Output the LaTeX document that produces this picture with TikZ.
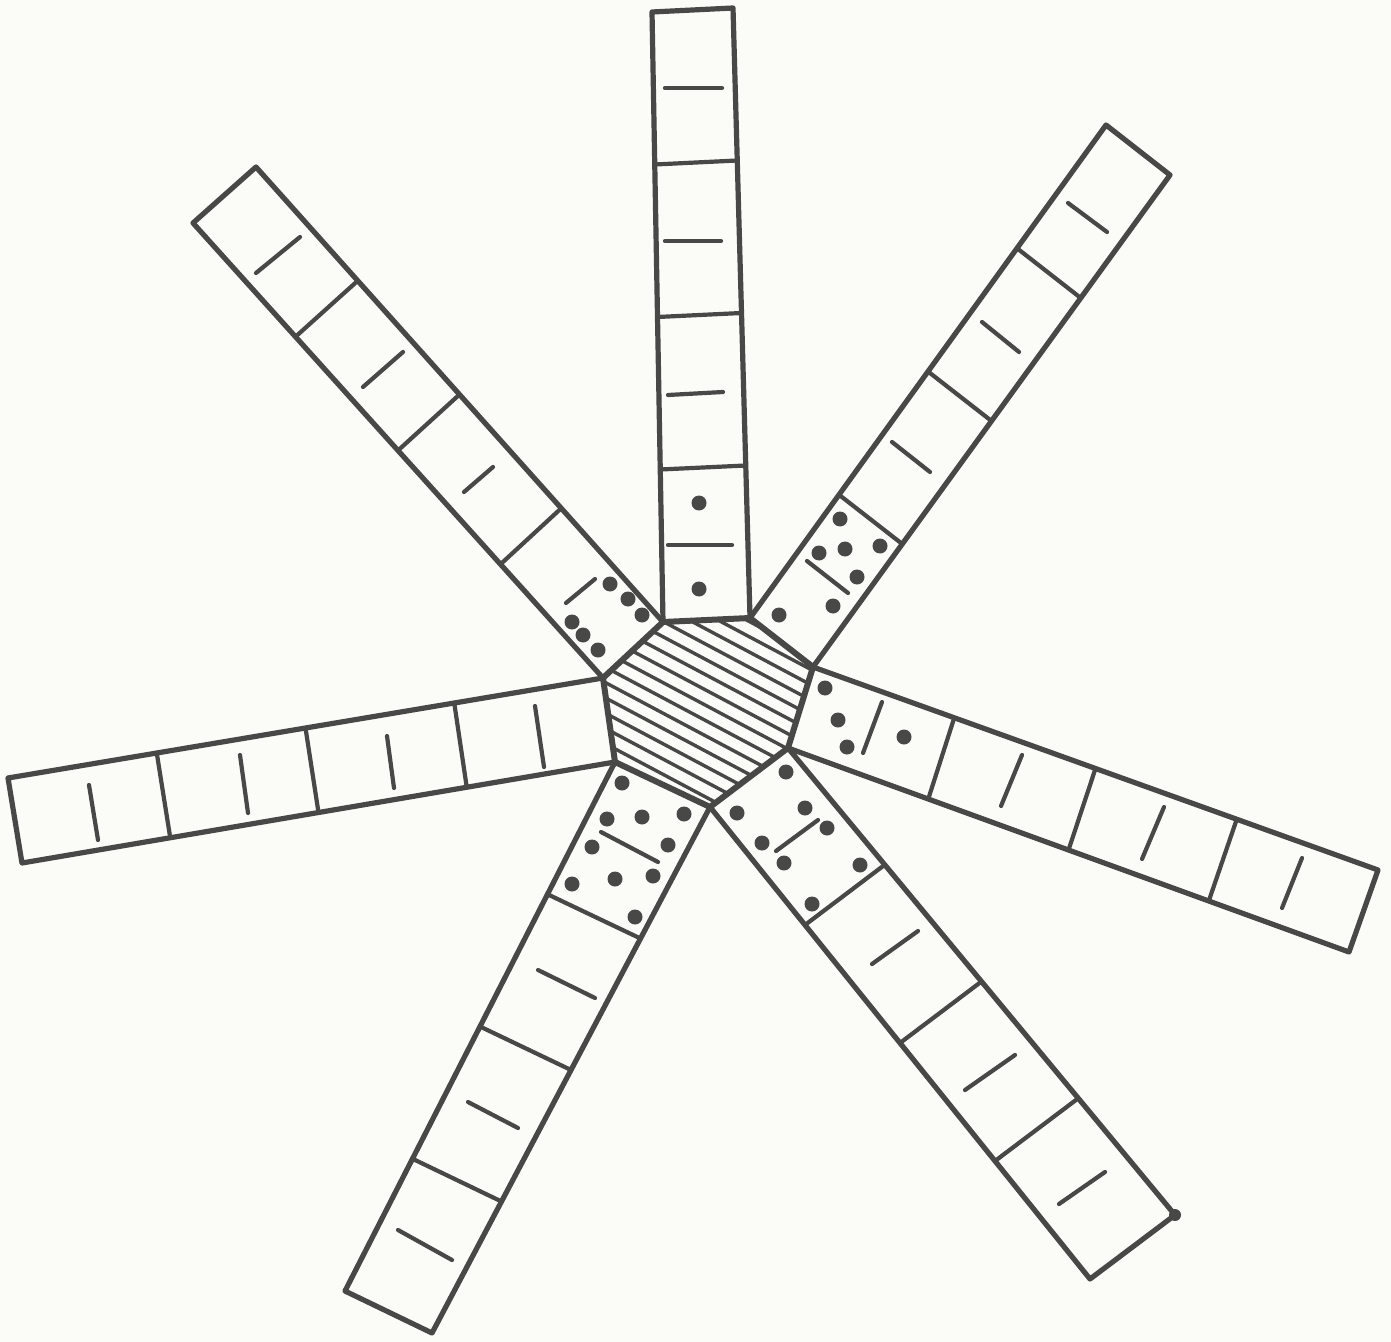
\documentclass[tikz,border=0pt]{standalone}
\usetikzlibrary{calc}
\definecolor{ink}{RGB}{72,72,70}
\definecolor{paper}{RGB}{251,251,248}
\tikzset{
  edgeline/.style={draw=ink, line width=2.6pt, line join=round, line cap=round},
  cellline/.style={draw=ink, line width=2.1pt, line cap=round},
  tickline/.style={draw=ink, line width=2.1pt, line cap=round},
  hatchline/.style={draw=ink, line width=1.7pt},
  pip/.style={fill=ink},
}
\newcommand{\drawarm}[4]{%
  \draw[edgeline] (#1) -- (#2) -- (#3) -- (#4);
  \foreach \fr in {0.25,0.5,0.75}
    \draw[cellline] ($(#1)!\fr!(#2)$) -- ($(#4)!\fr!(#3)$);
}
\begin{document}
\begin{tikzpicture}[x=0.5pt, y=-0.5pt]
  \fill[paper] (0,0) rectangle (1391,1342);
  \useasboundingbox (0,0) rectangle (1391,1342);
  % centre heptagon
  \coordinate (h1) at (663,622);
  \coordinate (h2) at (750,618);
  \coordinate (h3) at (813,667);
  \coordinate (h4) at (788,748);
  \coordinate (h5) at (710,807);
  \coordinate (h6) at (615,762);
  \coordinate (h7) at (603,678);
  % arm ends
  \coordinate (e1) at (652,12);    \coordinate (e2) at (733,8);
  \coordinate (e3) at (1106,125);  \coordinate (e4) at (1170,175);
  \coordinate (e5) at (1378,870);  \coordinate (e6) at (1349,952);
  \coordinate (e7) at (1175,1215); \coordinate (e8) at (1090,1279);
  \coordinate (e9) at (432,1333);  \coordinate (e10) at (345,1291);
  \coordinate (e11) at (22,863);   \coordinate (e12) at (8,778);
  \coordinate (e13) at (193,223);  \coordinate (e14) at (256,167);

  \begin{scope}
    \clip (h1) -- (h2) -- (h3) -- (h4) -- (h5) -- (h6) -- (h7) -- cycle;
    \foreach \k in {-8,...,8}
      \draw[hatchline, shift={(707,706)}, rotate=-28] (-160,\k*13.5) -- (160,\k*13.5);
  \end{scope}
  \draw[edgeline, line width=3pt] (h1) -- (h2) -- (h3) -- (h4) -- (h5) -- (h6) -- (h7) -- cycle;

  \drawarm{h1}{e1}{e2}{h2}
  \drawarm{h2}{e3}{e4}{h3}
  \drawarm{h3}{e5}{e6}{h4}
  \drawarm{h4}{e7}{e8}{h5}
  \drawarm{h5}{e9}{e10}{h6}
  \drawarm{h6}{e11}{e12}{h7}
  \drawarm{h7}{e13}{e14}{h1}

  % strokes in the cells
  \foreach \xa/\ya/\xb/\yb in {665/88/722/88, 665/241/721/241, 668/395/723/392, 668/545/732/545,
      1068/203/1107/232, 982/322/1019/352, 892/442/930/472, 807/561/848/593,
      1022/755/1001/806, 1164/807/1142/859, 1302/858/1282/908, 882/702/863/753,
      918/931/872/964, 1015/1055/965/1090, 1105/1172/1059/1204, 818/820/776/851,
      538/970/595/998, 468/1102/518/1128, 398/1230/452/1260, 601/832/658/862,
      89/785/98/840, 240/755/248/813, 387/736/394/788, 535/706/544/767,
      300/237/256/273, 403/352/363/387, 493/467/464/492, 595/579/566/603}
    \draw[tickline] (\xa,\ya) -- (\xb,\yb);

  % dots in the inner cells
  \foreach \x/\y in {699/503, 699/589,
      840/519, 819/553, 845/549, 880/546, 857/577, 833/606, 779/615,
      825/688, 838/720, 847/747, 904/737,
      786/772, 737/813, 805/808, 827/828, 762/843, 784/863, 860/865, 812/904,
      622/783, 607/819, 642/817, 684/814, 592/847, 668/845, 572/884, 615/879, 653/876, 635/917,
      610/584, 628/599, 642/615, 572/622, 583/635, 598/650}
    \fill[pip] (\x,\y) circle[radius=7.5];
  \fill[pip] (e7) circle[radius=6];
\end{tikzpicture}
\end{document}
